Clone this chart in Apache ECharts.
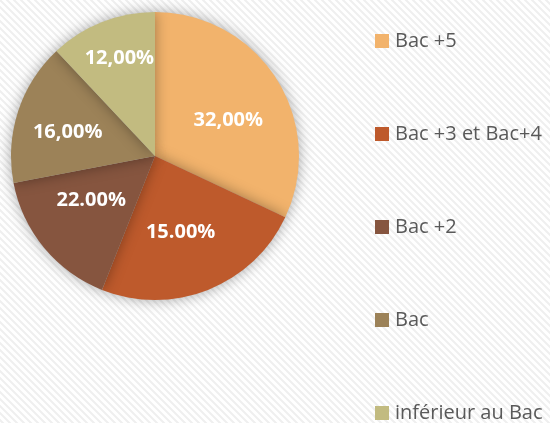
<!DOCTYPE html>
<html>
<head>
<meta charset="utf-8">
<script src="https://cdn.jsdelivr.net/npm/echarts@6/dist/echarts.min.js"></script>
<style>
  html, body { margin: 0; padding: 0; background: #fff; }
  #chart { width: 550px; height: 423px; }
</style>
</head>
<body>
<div id="chart"></div>
<script>
  // niveaux de diplome
  var categories = ['Bac +5', 'Bac +3 et Bac+4', 'Bac +2', 'Bac', 'inférieur au Bac']
  var values = [32, 24, 16, 16, 12]
  // etiquettes telles qu'affichees sur le graphique
  var labelTexts = ['32,00%', '15.00%', '22.00%', '16,00%', '12,00%']
  var colors = ['#F2B36C', '#BE5A2C', '#86553F', '#9C8258', '#C2BB80']

  // fond hachure leger
  function stripes() {
    var c = document.createElement('canvas')
    c.width = 7
    c.height = 7
    var ctx = c.getContext('2d')
    ctx.fillStyle = '#ffffff'
    ctx.fillRect(0, 0, 7, 7)
    ctx.strokeStyle = '#efefef'
    ctx.lineWidth = 2
    ctx.beginPath()
    ctx.moveTo(-1, -1); ctx.lineTo(8, 8)
    ctx.moveTo(-8, -1); ctx.lineTo(1, 8)
    ctx.moveTo(6, -1); ctx.lineTo(15, 8)
    ctx.stroke()
    return c
  }

  // petits decalages des etiquettes (placement "best fit" d'Excel)
  var labelShift = [[10, 4], [-2, 7], [-6, -4], [-16, -1], [-8, -28]]

  var dom = echarts.init(document.getElementById('chart'))
  var option = {
    backgroundColor: { image: stripes(), repeat: 'repeat' },
    animation: false,
    color: colors,
    legend: {
      orient: 'vertical',
      left: 375,
      top: 31,
      padding: 0,
      itemWidth: 14,
      itemHeight: 14,
      itemGap: 73,
      icon: 'rect',
      textStyle: {
        color: '#595959',
        fontSize: 20,
        fontFamily: 'Open Sans',
        padding: [0, 0, 0, 1]
      },
      data: categories
    },
    series: [
      {
        type: 'pie',
        center: [155, 156],
        radius: 144,
        startAngle: 90,
        clockwise: true,
        itemStyle: {
          shadowBlur: 14,
          shadowColor: 'rgba(0,0,0,0.35)'
        },
        label: {
          show: true,
          position: 'inside',
          color: '#fff',
          fontSize: 20,
          fontWeight: 'bold',
          fontFamily: 'Open Sans',
          formatter: function (p) {
            return labelTexts[p.dataIndex]
          }
        },
        labelLayout: function (p) {
          var s = labelShift[p.dataIndex]
          return { dx: s[0], dy: s[1] }
        },
        emphasis: { disabled: true },
        data: categories.map(function (name, i) {
          return { name: name, value: values[i] }
        })
      }
    ]
  }
  dom.setOption(option)
</script>
</body>
</html>
